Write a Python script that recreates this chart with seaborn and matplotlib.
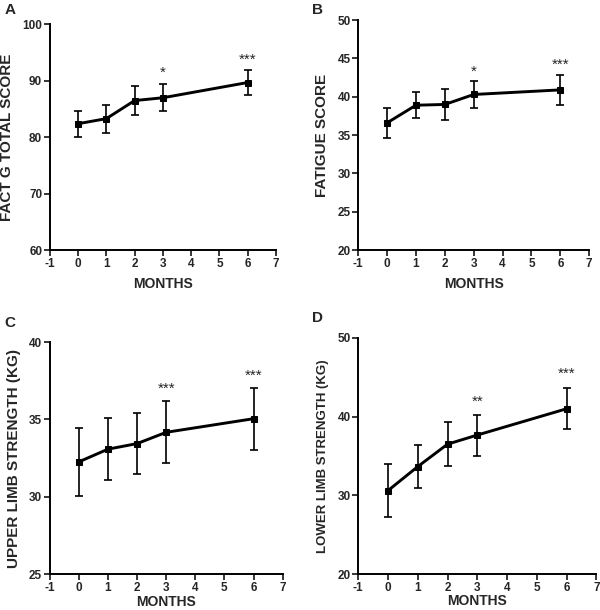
import numpy as np
import pandas as pd
import matplotlib
matplotlib.use("Agg")
from matplotlib import pyplot as plt
import seaborn as sns

# data
months = [0, 1, 2, 3, 6]

fact_g_mean = [82.4, 83.3, 86.5, 87.0, 89.7]
fact_g_sd = [2.3, 2.5, 2.5, 2.4, 2.3]

fatigue_mean = [36.6, 38.9, 39.0, 40.3, 40.9]
fatigue_sd = [2.0, 1.7, 2.0, 1.7, 2.0]

upper_mean = [32.26, 33.08, 33.44, 34.17, 35.05]
upper_sd = [2.2, 2.0, 2.0, 2.0, 2.0]

lower_mean = [30.6, 33.65, 36.5, 37.66, 41.0]
lower_sd = [3.4, 2.75, 2.8, 2.6, 2.6]

# significance marks: (month, y, text)
fact_g_stars = [(3, 91.5, "*"), (6, 93.8, "***")]
fatigue_stars = [(3, 43.3, "*"), (6, 44.2, "***")]
upper_stars = [(3, 37.0, "***"), (6, 37.8, "***")]
lower_stars = [(3, 41.9, "**"), (6, 45.4, "***")]

sns.set_style("ticks")
plt.rcParams['font.family'] = ['Liberation Sans', 'DejaVu Sans']
plt.rcParams['font.weight'] = 'bold'
plt.rcParams['axes.unicode_minus'] = False

fig = plt.figure(figsize=(6, 6.1), dpi=100)

panels = [
    # letter, mean, sd, stars, ylabel, ylim, yticks, axes rect, letter pos, ylabel size, xlabel pad
    ("A", fact_g_mean, fact_g_sd, fact_g_stars, "FACT G TOTAL SCORE", (60, 100), [60, 70, 80, 90, 100],
     [0.083, 0.590, 0.377, 0.370], (0.008, 0.995), 11, 5),
    ("B", fatigue_mean, fatigue_sd, fatigue_stars, "FATIGUE SCORE", (20, 50), [20, 25, 30, 35, 40, 45, 50],
     [0.597, 0.590, 0.385, 0.377], (0.520, 0.995), 11, 5),
    ("C", upper_mean, upper_sd, upper_stars, "UPPER LIMB STRENGTH (KG)", (25, 40), [25, 30, 35, 40],
     [0.083, 0.059, 0.388, 0.380], (0.008, 0.482), 11, 1),
    ("D", lower_mean, lower_sd, lower_stars, "LOWER LIMB STRENGTH (KG)", (20, 50), [20, 30, 40, 50],
     [0.597, 0.059, 0.397, 0.387], (0.520, 0.490), 9.5, 0),
]

for letter, mean, sd, stars, ylabel, ylim, yticks, rect, lpos, lsize, xpad in panels:
    ax = fig.add_axes(rect)
    d = pd.DataFrame({"month": months, "value": mean, "sd": sd})
    ax.errorbar(d["month"], d["value"], yerr=d["sd"], fmt='none', ecolor='black',
                elinewidth=1.2, capsize=2.7, capthick=1.2, zorder=2)
    sns.lineplot(data=d, x="month", y="value", ax=ax, color='black', linewidth=2.1,
                 marker='s', markersize=4.2, markeredgecolor='black', zorder=3)
    for xm, ys, txt in stars:
        ax.text(xm, ys, txt, ha='center', va='center', fontsize=11, fontweight='normal')
    ax.set_xlim(-1, 7)
    ax.set_xticks(range(-1, 8))
    ax.set_ylim(*ylim)
    ax.set_yticks(yticks)
    ax.set_xlabel("MONTHS", fontsize=10, fontweight='bold', labelpad=xpad)
    ax.set_ylabel(ylabel, fontsize=lsize, fontweight='bold', labelpad=6)
    ax.tick_params(axis='both', labelsize=8.5, width=1.3, length=4, direction='out', pad=1.5)
    for lab in ax.get_xticklabels() + ax.get_yticklabels():
        lab.set_fontweight('bold')
    for s in ['left', 'bottom']:
        ax.spines[s].set_linewidth(1.4)
        ax.spines[s].set_color('black')
    sns.despine(ax=ax)
    fig.text(lpos[0], lpos[1], letter, fontsize=11, fontweight='bold', ha='left', va='top')

fig.savefig("out.png", dpi=100)
